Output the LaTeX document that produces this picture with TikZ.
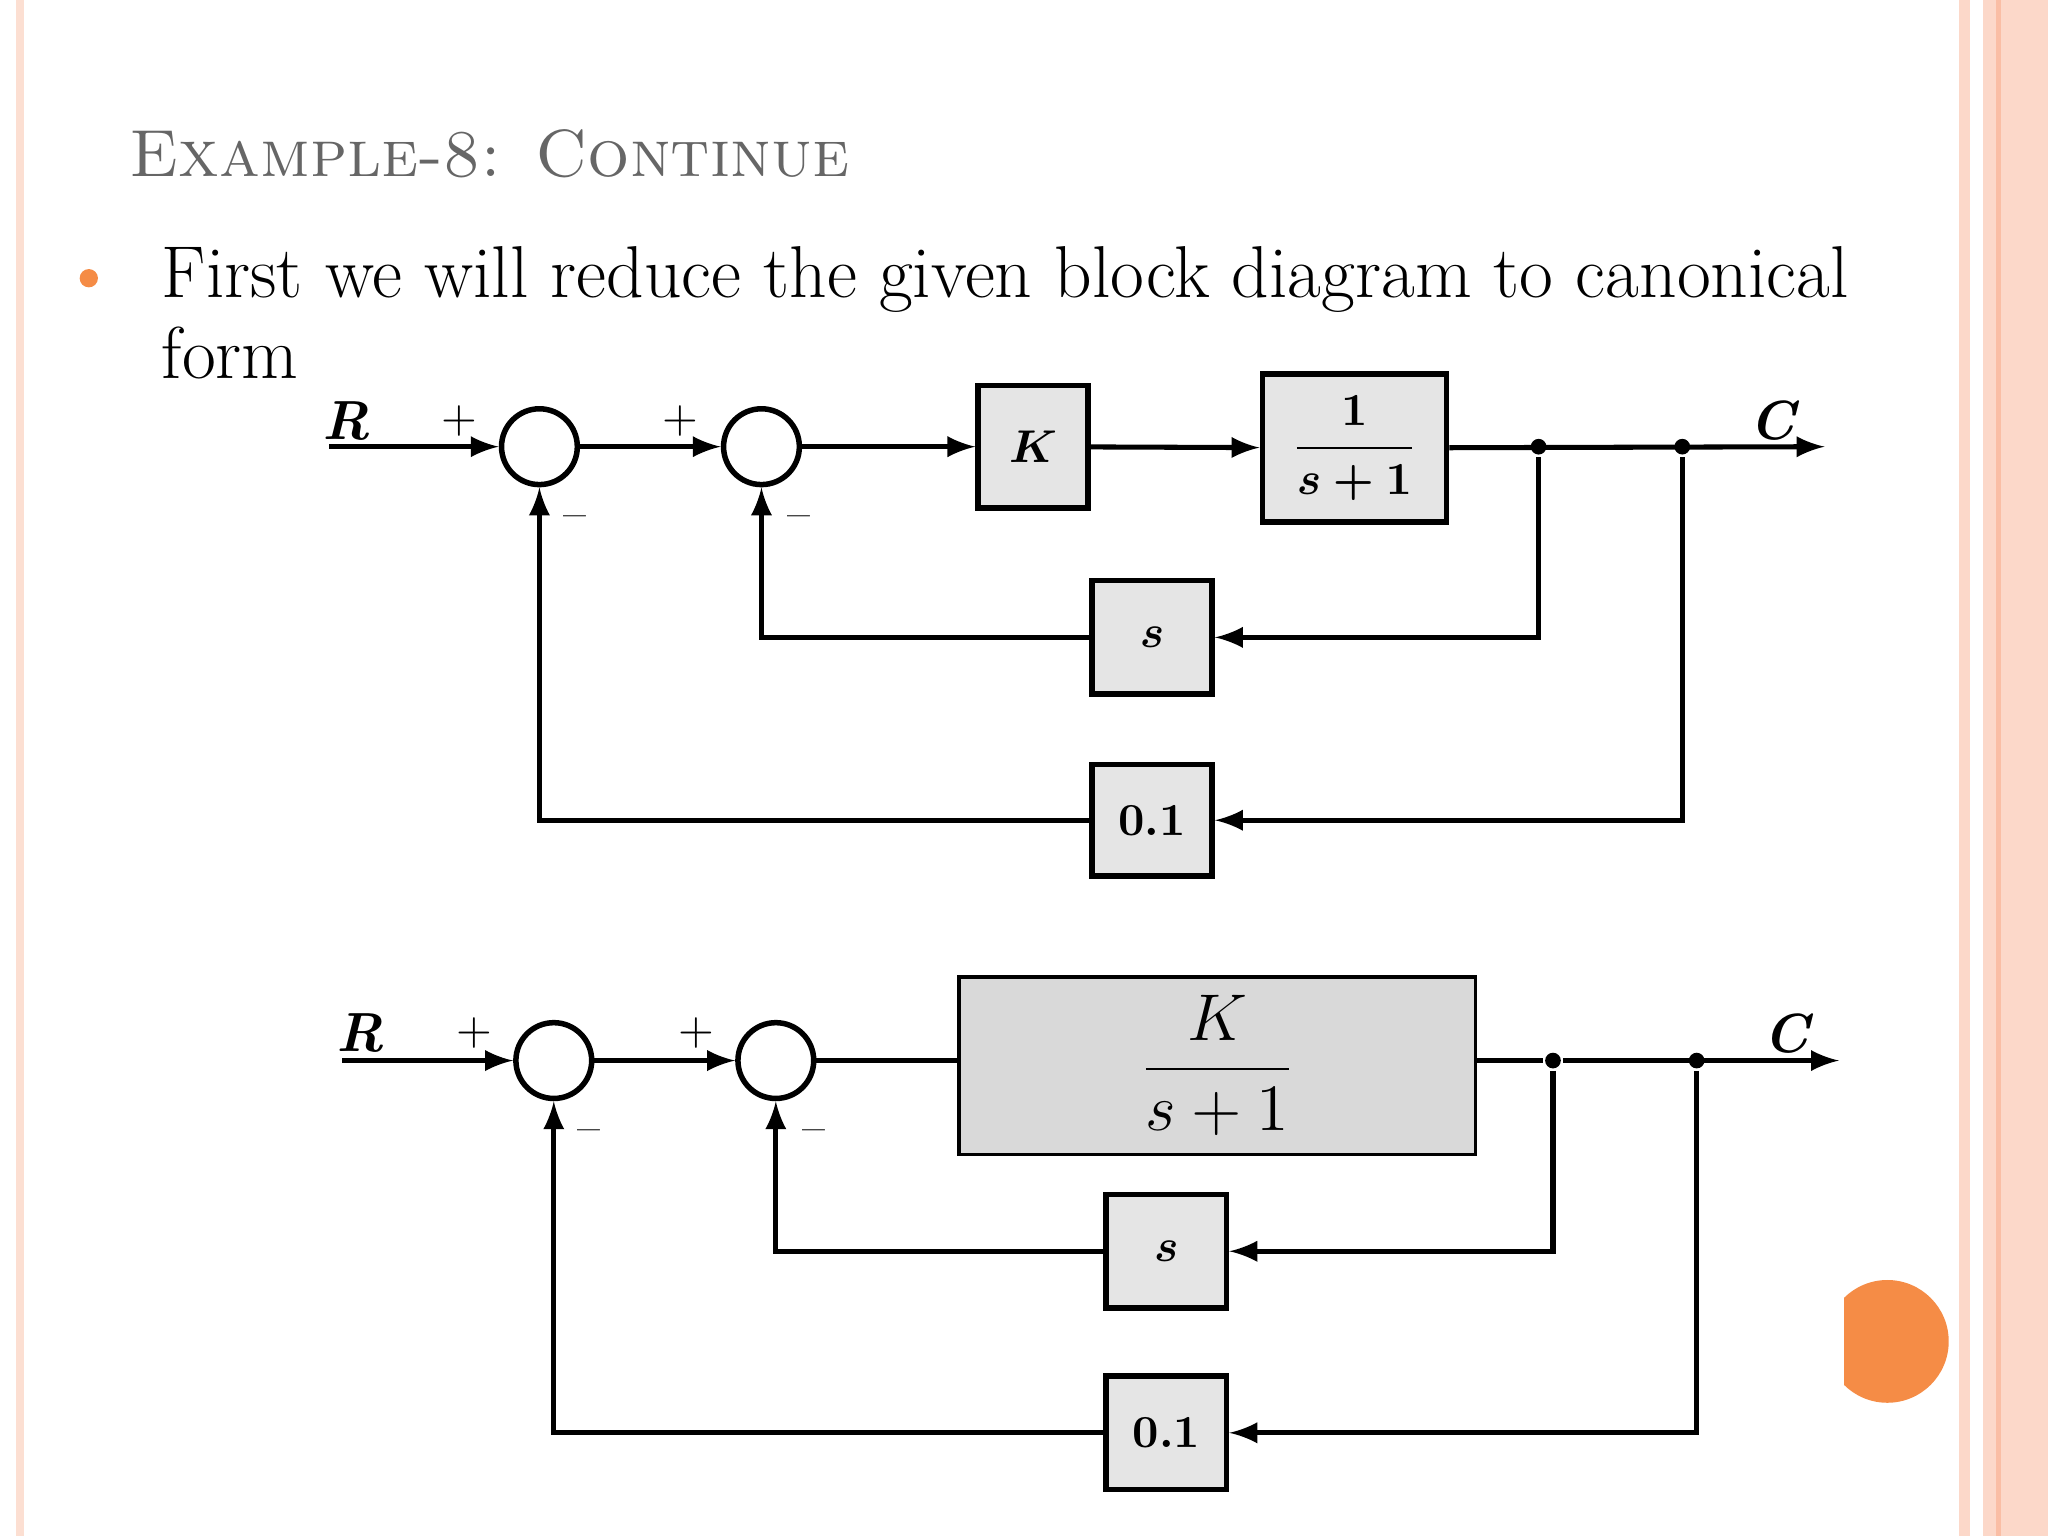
\documentclass[tikz,border=0pt]{standalone}
\usepackage{amsmath,amssymb}
\usepackage{tikz}
\usetikzlibrary{positioning,arrows}
\tikzset{
block/.style={shape=rectangle,draw,very thick,fill=black!10,inner sep=0pt,font=\bfseries},
summer/.style={shape=circle,draw,very thick,minimum size=0.58cm,inner sep=0pt},
dot/.style={shape=circle,fill,inner sep=0pt,minimum size=0.12cm},
sig/.style={font=\bfseries\itshape\large}
}
\definecolor{salmon}{RGB}{250,190,165}
\definecolor{bulletorange}{RGB}{245,140,70}

\begin{document}
\begin{tikzpicture}
[>=latex, x=0.01cm, y=-0.01cm, line width=1.1pt]
\useasboundingbox (0,0) rectangle (1568,1176);
% slide frame
\fill[salmon!50] (12,0) rectangle (18,1176);
\fill[salmon!60] (1500,0) rectangle (1568,1176);
\fill[white] (1508,0) rectangle (1518,1176);
\fill[salmon] (1528,0) rectangle (1532,1176);
\begin{scope}
\clip (1412,960) rectangle (1500,1090);
\fill[bulletorange] (1445,1027) circle (47);
\end{scope}
\node[anchor=west,text=black!60,font=\fontsize{14.5}{18}\selectfont\scshape,inner sep=0pt] (title) at (97,118) {Example-8: Continue};
\fill[bulletorange] (68,213) circle (7);
\node[anchor=base west,align=left,font=\fontsize{16}{19}\selectfont,inner sep=0pt] (text) at (122,228) {First we will reduce the given block diagram to canonical};
\node[anchor=base west,font=\fontsize{16}{19}\selectfont,inner sep=0pt] (text2) at (122,290) {form};

% first diagram
\coordinate (r in) at (252,342);
\node[summer] (sum a) at (413,342) {};
\node[summer] (sum b) at (583,342) {};
\node[block,minimum width=0.84cm,minimum height=0.94cm] (gain) at (791,342) {$\boldsymbol{K}$};
\node[block,minimum width=1.41cm,minimum height=1.13cm] (plant) at (1037,343) {$\boldsymbol{\dfrac{1}{s+1}}$};
\node[dot] (tap a) at (1178,342) {};
\node[dot] (tap b) at (1288,342) {};
\coordinate (c out) at (1397,342);
\node[block,minimum width=0.92cm,minimum height=0.87cm] (deriv) at (882,488) {$\boldsymbol{s}$};
\node[block,minimum width=0.92cm,minimum height=0.85cm] (scale) at (882,628) {0.1};
\node[sig] at (265,322) {R};
\node[sig] at (1357,322) {C};
\node at (352,322) {+};
\node at (521,322) {+};
\node at (440,400) {--};
\node at (612,400) {--};
\draw[->] (r in) -- (sum a);
\draw[->] (sum a) -- (sum b);
\draw[->] (sum b) -- (gain);
\draw[->] (gain) -- (plant);
\draw[->] (plant) -- (c out);
\draw[->] (tap a) |- (deriv);
\draw[->] (deriv) -| (sum b);
\draw[->] (tap b) |- (scale);
\draw[->] (scale) -| (sum a);

% second diagram
\coordinate (r in 2) at (262,812);
\node[summer] (sum c) at (424,812) {};
\node[summer] (sum d) at (594,812) {};
\node[draw,thick,fill=black!15,minimum width=3.95cm,minimum height=1.36cm,font=\Large] (forward) at (932,816) {$\dfrac{K}{s+1}$};
\node[dot] (tap c) at (1189,812) {};
\node[dot] (tap d) at (1299,812) {};
\coordinate (c out 2) at (1408,812);
\node[block,minimum width=0.92cm,minimum height=0.87cm] (deriv 2) at (893,958) {$\boldsymbol{s}$};
\node[block,minimum width=0.92cm,minimum height=0.87cm] (scale 2) at (893,1097) {0.1};
\node[sig] at (276,791) {R};
\node[sig] at (1368,791) {C};
\node at (363,791) {+};
\node at (533,791) {+};
\node at (451,870) {--};
\node at (623,870) {--};
\draw[->] (r in 2) -- (sum c);
\draw[->] (sum c) -- (sum d);
\draw (sum d) -- (forward.west |- sum d);
\draw (forward.east |- tap c) -- (tap c);
\draw[->] (tap c) -- (c out 2);
\draw[->] (tap c) |- (deriv 2);
\draw[->] (deriv 2) -| (sum d);
\draw[->] (tap d) |- (scale 2);
\draw[->] (scale 2) -| (sum c);
\end{tikzpicture}
\end{document}
